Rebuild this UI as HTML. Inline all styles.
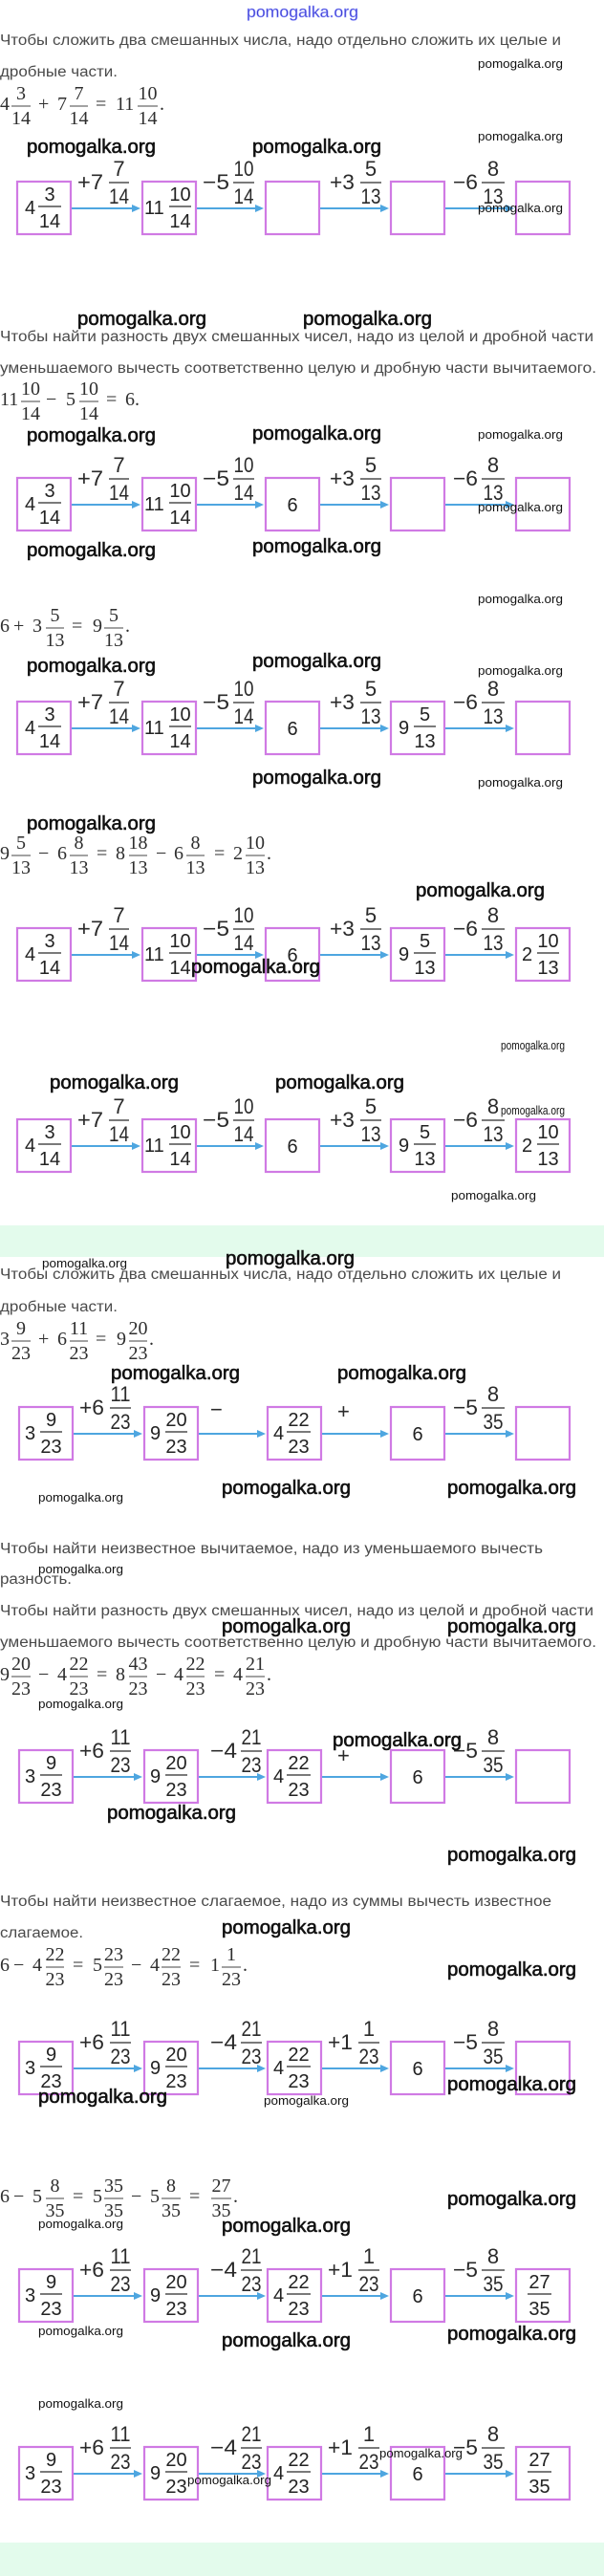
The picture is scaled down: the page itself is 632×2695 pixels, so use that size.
<!DOCTYPE html>
<html><head><meta charset="utf-8"><style>
html,body{margin:0;padding:0;background:#fff}
svg{display:block}
.t{font-family:"Liberation Sans","Noto Sans CJK SC",sans-serif;font-size:15.5px;fill:#4a4a4a}
.e{font-family:"Liberation Serif",serif;font-size:20px;fill:#2e2e2e}
.o{font-family:"Liberation Sans",sans-serif;font-size:22px;fill:#2a2a2a}
.b{font-family:"Liberation Sans",sans-serif;font-size:20px;fill:#222}
.wb{font-family:"Liberation Sans",sans-serif;font-size:20px;fill:#111;stroke:#111;stroke-width:0.6}
.ws{font-family:"Liberation Sans",sans-serif;font-size:13px;fill:#111}
.bx{fill:#fff;stroke:#d07ae4;stroke-width:2.2}
.ar{stroke:#4ea6e0;stroke-width:2;fill:none}
.ah{fill:#4ea6e0}
.fl{stroke:#2a2a2a;stroke-width:1.3;fill:none}
.el{stroke:#444;stroke-width:1;fill:none}
</style></head><body>
<svg width="632" height="2695" viewBox="0 0 632 2695" xmlns="http://www.w3.org/2000/svg">
<rect x="0" y="0" width="632" height="2695" fill="#fff"/>
<rect x="0" y="1282" width="632" height="33" fill="#e3fbec"/>
<rect x="0" y="2660" width="632" height="35" fill="#e3fbec"/>

<text x="258" y="18" font-family="Liberation Sans, sans-serif" font-size="17" fill="#3b3bd0" stroke="#9aa0ff" stroke-width="0.5" textLength="117" lengthAdjust="spacingAndGlyphs">pomogalka.org</text>

<text class="t" x="0" y="47" textLength="587" lengthAdjust="spacingAndGlyphs">Чтобы сложить два смешанных числа, надо отдельно сложить их целые и</text>
<text class="t" x="0" y="80" textLength="123" lengthAdjust="spacingAndGlyphs">дробные части.</text>
<text class="t" x="0" y="357" textLength="621" lengthAdjust="spacingAndGlyphs">Чтобы найти разность двух смешанных чисел, надо из целой и дробной части</text>
<text class="t" x="0" y="390" textLength="624" lengthAdjust="spacingAndGlyphs">уменьшаемого вычесть соответственно целую и дробную части вычитаемого.</text>
<text class="t" x="0" y="1338" textLength="587" lengthAdjust="spacingAndGlyphs">Чтобы сложить два смешанных числа, надо отдельно сложить их целые и</text>
<text class="t" x="0" y="1372" textLength="123" lengthAdjust="spacingAndGlyphs">дробные части.</text>
<text class="t" x="0" y="1625" textLength="568" lengthAdjust="spacingAndGlyphs">Чтобы найти неизвестное вычитаемое, надо из уменьшаемого вычесть</text>
<text class="t" x="0" y="1657" textLength="75" lengthAdjust="spacingAndGlyphs">разность.</text>
<text class="t" x="0" y="1690" textLength="621" lengthAdjust="spacingAndGlyphs">Чтобы найти разность двух смешанных чисел, надо из целой и дробной части</text>
<text class="t" x="0" y="1723" textLength="624" lengthAdjust="spacingAndGlyphs">уменьшаемого вычесть соответственно целую и дробную части вычитаемого.</text>
<text class="t" x="0" y="1994" textLength="577" lengthAdjust="spacingAndGlyphs">Чтобы найти неизвестное слагаемое, надо из суммы вычесть известное</text>
<text class="t" x="0" y="2027" textLength="87" lengthAdjust="spacingAndGlyphs">слагаемое.</text>

<!-- Equation 1 -->
<g transform="translate(0,111)">
<text class="e" x="0" y="4">4</text>
<text class="e" x="22" y="-7" text-anchor="middle">3</text><path class="el" d="M12 0H32"/><text class="e" x="22" y="19" text-anchor="middle">14</text>
<text class="e" x="40" y="4">+</text>
<text class="e" x="60" y="4">7</text>
<text class="e" x="82.5" y="-7" text-anchor="middle">7</text><path class="el" d="M73 0H92"/><text class="e" x="82.5" y="19" text-anchor="middle">14</text>
<text class="e" x="100" y="4">=</text>
<text class="e" x="121" y="4">11</text>
<text class="e" x="154.5" y="-7" text-anchor="middle">10</text><path class="el" d="M144 0H165"/><text class="e" x="154.5" y="19" text-anchor="middle">14</text>
<text class="e" x="167" y="4">.</text>
</g>

<!-- Equation 2 -->
<g transform="translate(0,420)">
<text class="e" x="0" y="4">11</text>
<text class="e" x="32" y="-7" text-anchor="middle">10</text><path class="el" d="M22 0H42"/><text class="e" x="32" y="19" text-anchor="middle">14</text>
<text class="e" x="48" y="4">−</text>
<text class="e" x="69" y="4">5</text>
<text class="e" x="93" y="-7" text-anchor="middle">10</text><path class="el" d="M83 0H103"/><text class="e" x="93" y="19" text-anchor="middle">14</text>
<text class="e" x="111" y="4">=</text>
<text class="e" x="131" y="4">6.</text>
</g>

<!-- Equation 3 -->
<g transform="translate(0,657)">
<text class="e" x="0" y="4">6</text>
<text class="e" x="14" y="4">+</text>
<text class="e" x="34" y="4">3</text>
<text class="e" x="57.5" y="-7" text-anchor="middle">5</text><path class="el" d="M48 0H67"/><text class="e" x="57.5" y="19" text-anchor="middle">13</text>
<text class="e" x="75" y="4">=</text>
<text class="e" x="97" y="4">9</text>
<text class="e" x="119" y="-7" text-anchor="middle">5</text><path class="el" d="M109 0H129"/><text class="e" x="119" y="19" text-anchor="middle">13</text>
<text class="e" x="131" y="4">.</text>
</g>

<!-- Equation 4 -->
<g transform="translate(0,895)">
<text class="e" x="0" y="4">9</text>
<text class="e" x="22" y="-7" text-anchor="middle">5</text><path class="el" d="M12 0H32"/><text class="e" x="22" y="19" text-anchor="middle">13</text>
<text class="e" x="40" y="4">−</text>
<text class="e" x="60" y="4">6</text>
<text class="e" x="82.5" y="-7" text-anchor="middle">8</text><path class="el" d="M73 0H92"/><text class="e" x="82.5" y="19" text-anchor="middle">13</text>
<text class="e" x="101" y="4">=</text>
<text class="e" x="121" y="4">8</text>
<text class="e" x="144.5" y="-7" text-anchor="middle">18</text><path class="el" d="M135 0H154"/><text class="e" x="144.5" y="19" text-anchor="middle">13</text>
<text class="e" x="163" y="4">−</text>
<text class="e" x="182" y="4">6</text>
<text class="e" x="204.5" y="-7" text-anchor="middle">8</text><path class="el" d="M195 0H214"/><text class="e" x="204.5" y="19" text-anchor="middle">13</text>
<text class="e" x="224" y="4">=</text>
<text class="e" x="244" y="4">2</text>
<text class="e" x="267" y="-7" text-anchor="middle">10</text><path class="el" d="M257 0H277"/><text class="e" x="267" y="19" text-anchor="middle">13</text>
<text class="e" x="279" y="4">.</text>
</g>

<!-- Equation 5 -->
<g transform="translate(0,1403)">
<text class="e" x="0" y="4">3</text>
<text class="e" x="22" y="-7" text-anchor="middle">9</text><path class="el" d="M12 0H32"/><text class="e" x="22" y="19" text-anchor="middle">23</text>
<text class="e" x="40" y="4">+</text>
<text class="e" x="60" y="4">6</text>
<text class="e" x="82.5" y="-7" text-anchor="middle">11</text><path class="el" d="M73 0H92"/><text class="e" x="82.5" y="19" text-anchor="middle">23</text>
<text class="e" x="100" y="4">=</text>
<text class="e" x="122" y="4">9</text>
<text class="e" x="144.5" y="-7" text-anchor="middle">20</text><path class="el" d="M135 0H154"/><text class="e" x="144.5" y="19" text-anchor="middle">23</text>
<text class="e" x="156" y="4">.</text>
</g>

<!-- Equation 6 -->
<g transform="translate(0,1754)">
<text class="e" x="0" y="4">9</text>
<text class="e" x="22" y="-7" text-anchor="middle">20</text><path class="el" d="M12 0H32"/><text class="e" x="22" y="19" text-anchor="middle">23</text>
<text class="e" x="40" y="4">−</text>
<text class="e" x="60" y="4">4</text>
<text class="e" x="82.5" y="-7" text-anchor="middle">22</text><path class="el" d="M73 0H92"/><text class="e" x="82.5" y="19" text-anchor="middle">23</text>
<text class="e" x="101" y="4">=</text>
<text class="e" x="121" y="4">8</text>
<text class="e" x="144.5" y="-7" text-anchor="middle">43</text><path class="el" d="M135 0H154"/><text class="e" x="144.5" y="19" text-anchor="middle">23</text>
<text class="e" x="163" y="4">−</text>
<text class="e" x="182" y="4">4</text>
<text class="e" x="204.5" y="-7" text-anchor="middle">22</text><path class="el" d="M195 0H214"/><text class="e" x="204.5" y="19" text-anchor="middle">23</text>
<text class="e" x="224" y="4">=</text>
<text class="e" x="244" y="4">4</text>
<text class="e" x="267" y="-7" text-anchor="middle">21</text><path class="el" d="M257 0H277"/><text class="e" x="267" y="19" text-anchor="middle">23</text>
<text class="e" x="279" y="4">.</text>
</g>

<!-- Equation 7 -->
<g transform="translate(0,2058)">
<text class="e" x="0" y="4">6</text>
<text class="e" x="14" y="4">−</text>
<text class="e" x="34" y="4">4</text>
<text class="e" x="57.5" y="-7" text-anchor="middle">22</text><path class="el" d="M48 0H67"/><text class="e" x="57.5" y="19" text-anchor="middle">23</text>
<text class="e" x="76" y="4">=</text>
<text class="e" x="97" y="4">5</text>
<text class="e" x="119" y="-7" text-anchor="middle">23</text><path class="el" d="M109 0H129"/><text class="e" x="119" y="19" text-anchor="middle">23</text>
<text class="e" x="137" y="4">−</text>
<text class="e" x="157" y="4">4</text>
<text class="e" x="179" y="-7" text-anchor="middle">22</text><path class="el" d="M169 0H189"/><text class="e" x="179" y="19" text-anchor="middle">23</text>
<text class="e" x="198" y="4">=</text>
<text class="e" x="220" y="4">1</text>
<text class="e" x="242" y="-7" text-anchor="middle">1</text><path class="el" d="M232 0H252"/><text class="e" x="242" y="19" text-anchor="middle">23</text>
<text class="e" x="254" y="4">.</text>
</g>

<!-- Equation 8 -->
<g transform="translate(0,2300)">
<text class="e" x="0" y="4">6</text>
<text class="e" x="14" y="4">−</text>
<text class="e" x="34" y="4">5</text>
<text class="e" x="57.5" y="-7" text-anchor="middle">8</text><path class="el" d="M48 0H67"/><text class="e" x="57.5" y="19" text-anchor="middle">35</text>
<text class="e" x="76" y="4">=</text>
<text class="e" x="97" y="4">5</text>
<text class="e" x="119" y="-7" text-anchor="middle">35</text><path class="el" d="M109 0H129"/><text class="e" x="119" y="19" text-anchor="middle">35</text>
<text class="e" x="137" y="4">−</text>
<text class="e" x="157" y="4">5</text>
<text class="e" x="179" y="-7" text-anchor="middle">8</text><path class="el" d="M169 0H189"/><text class="e" x="179" y="19" text-anchor="middle">35</text>
<text class="e" x="198" y="4">=</text>
<text class="e" x="231.5" y="-7" text-anchor="middle">27</text><path class="el" d="M221 0H242"/><text class="e" x="231.5" y="19" text-anchor="middle">35</text>
<text class="e" x="244" y="4">.</text>
</g>

<!-- R1 -->
<g transform="translate(0,189)">
<path class="ar" d="M75 29H140M206 29H269M335 29H400M466 29H531"/>
<path class="ah" d="M138 25L147 29L138 33ZM267 25L276 29L267 33ZM398 25L407 29L398 33ZM529 25L538 29L529 33Z"/>
<rect class="bx" x="18" y="1" width="56" height="55"/><rect class="bx" x="149" y="1" width="56" height="55"/><rect class="bx" x="278" y="1" width="56" height="55"/><rect class="bx" x="409" y="1" width="56" height="55"/><rect class="bx" x="540" y="1" width="56" height="55"/>
<text class="o" x="81" y="9" textLength="27" lengthAdjust="spacingAndGlyphs">+7</text><text class="o" x="124.5" y="-5" text-anchor="middle">7</text><path class="fl" d="M114 2H135"/><text class="o" x="124.5" y="24" text-anchor="middle" textLength="21" lengthAdjust="spacingAndGlyphs">14</text>
<text class="o" x="212" y="9" textLength="28" lengthAdjust="spacingAndGlyphs">−5</text><text class="o" x="255" y="-5" text-anchor="middle" textLength="21" lengthAdjust="spacingAndGlyphs">10</text><path class="fl" d="M244 2H266"/><text class="o" x="255" y="24" text-anchor="middle" textLength="21" lengthAdjust="spacingAndGlyphs">14</text>
<text class="o" x="345" y="9" textLength="26" lengthAdjust="spacingAndGlyphs">+3</text><text class="o" x="388" y="-5" text-anchor="middle">5</text><path class="fl" d="M377 2H399"/><text class="o" x="388" y="24" text-anchor="middle" textLength="21" lengthAdjust="spacingAndGlyphs">13</text>
<text class="o" x="474" y="9" textLength="26" lengthAdjust="spacingAndGlyphs">−6</text><text class="o" x="516" y="-5" text-anchor="middle">8</text><path class="fl" d="M504 2H528"/><text class="o" x="516" y="24" text-anchor="middle" textLength="21" lengthAdjust="spacingAndGlyphs">13</text>
<text class="b" x="26" y="35">4</text><text class="b" x="52" y="21" text-anchor="middle">3</text><path class="fl" d="M40 27H64"/><text class="b" x="52" y="49" text-anchor="middle">14</text>
<text class="b" x="151" y="35">11</text><text class="b" x="188.5" y="21" text-anchor="middle">10</text><path class="fl" d="M177 27H200"/><text class="b" x="188.5" y="49" text-anchor="middle">14</text>
</g>

<!-- R2 -->
<g transform="translate(0,499)">
<path class="ar" d="M75 29H140M206 29H269M335 29H400M466 29H531"/>
<path class="ah" d="M138 25L147 29L138 33ZM267 25L276 29L267 33ZM398 25L407 29L398 33ZM529 25L538 29L529 33Z"/>
<rect class="bx" x="18" y="1" width="56" height="55"/><rect class="bx" x="149" y="1" width="56" height="55"/><rect class="bx" x="278" y="1" width="56" height="55"/><rect class="bx" x="409" y="1" width="56" height="55"/><rect class="bx" x="540" y="1" width="56" height="55"/>
<text class="o" x="81" y="9" textLength="27" lengthAdjust="spacingAndGlyphs">+7</text><text class="o" x="124.5" y="-5" text-anchor="middle">7</text><path class="fl" d="M114 2H135"/><text class="o" x="124.5" y="24" text-anchor="middle" textLength="21" lengthAdjust="spacingAndGlyphs">14</text>
<text class="o" x="212" y="9" textLength="28" lengthAdjust="spacingAndGlyphs">−5</text><text class="o" x="255" y="-5" text-anchor="middle" textLength="21" lengthAdjust="spacingAndGlyphs">10</text><path class="fl" d="M244 2H266"/><text class="o" x="255" y="24" text-anchor="middle" textLength="21" lengthAdjust="spacingAndGlyphs">14</text>
<text class="o" x="345" y="9" textLength="26" lengthAdjust="spacingAndGlyphs">+3</text><text class="o" x="388" y="-5" text-anchor="middle">5</text><path class="fl" d="M377 2H399"/><text class="o" x="388" y="24" text-anchor="middle" textLength="21" lengthAdjust="spacingAndGlyphs">13</text>
<text class="o" x="474" y="9" textLength="26" lengthAdjust="spacingAndGlyphs">−6</text><text class="o" x="516" y="-5" text-anchor="middle">8</text><path class="fl" d="M504 2H528"/><text class="o" x="516" y="24" text-anchor="middle" textLength="21" lengthAdjust="spacingAndGlyphs">13</text>
<text class="b" x="26" y="35">4</text><text class="b" x="52" y="21" text-anchor="middle">3</text><path class="fl" d="M40 27H64"/><text class="b" x="52" y="49" text-anchor="middle">14</text>
<text class="b" x="151" y="35">11</text><text class="b" x="188.5" y="21" text-anchor="middle">10</text><path class="fl" d="M177 27H200"/><text class="b" x="188.5" y="49" text-anchor="middle">14</text>
<text class="b" x="306" y="36" text-anchor="middle">6</text>
</g>

<!-- R3 -->
<g transform="translate(0,733)">
<path class="ar" d="M75 29H140M206 29H269M335 29H400M466 29H531"/>
<path class="ah" d="M138 25L147 29L138 33ZM267 25L276 29L267 33ZM398 25L407 29L398 33ZM529 25L538 29L529 33Z"/>
<rect class="bx" x="18" y="1" width="56" height="55"/><rect class="bx" x="149" y="1" width="56" height="55"/><rect class="bx" x="278" y="1" width="56" height="55"/><rect class="bx" x="409" y="1" width="56" height="55"/><rect class="bx" x="540" y="1" width="56" height="55"/>
<text class="o" x="81" y="9" textLength="27" lengthAdjust="spacingAndGlyphs">+7</text><text class="o" x="124.5" y="-5" text-anchor="middle">7</text><path class="fl" d="M114 2H135"/><text class="o" x="124.5" y="24" text-anchor="middle" textLength="21" lengthAdjust="spacingAndGlyphs">14</text>
<text class="o" x="212" y="9" textLength="28" lengthAdjust="spacingAndGlyphs">−5</text><text class="o" x="255" y="-5" text-anchor="middle" textLength="21" lengthAdjust="spacingAndGlyphs">10</text><path class="fl" d="M244 2H266"/><text class="o" x="255" y="24" text-anchor="middle" textLength="21" lengthAdjust="spacingAndGlyphs">14</text>
<text class="o" x="345" y="9" textLength="26" lengthAdjust="spacingAndGlyphs">+3</text><text class="o" x="388" y="-5" text-anchor="middle">5</text><path class="fl" d="M377 2H399"/><text class="o" x="388" y="24" text-anchor="middle" textLength="21" lengthAdjust="spacingAndGlyphs">13</text>
<text class="o" x="474" y="9" textLength="26" lengthAdjust="spacingAndGlyphs">−6</text><text class="o" x="516" y="-5" text-anchor="middle">8</text><path class="fl" d="M504 2H528"/><text class="o" x="516" y="24" text-anchor="middle" textLength="21" lengthAdjust="spacingAndGlyphs">13</text>
<text class="b" x="26" y="35">4</text><text class="b" x="52" y="21" text-anchor="middle">3</text><path class="fl" d="M40 27H64"/><text class="b" x="52" y="49" text-anchor="middle">14</text>
<text class="b" x="151" y="35">11</text><text class="b" x="188.5" y="21" text-anchor="middle">10</text><path class="fl" d="M177 27H200"/><text class="b" x="188.5" y="49" text-anchor="middle">14</text>
<text class="b" x="306" y="36" text-anchor="middle">6</text>
<text class="b" x="417" y="35">9</text><text class="b" x="444.5" y="21" text-anchor="middle">5</text><path class="fl" d="M433 27H456"/><text class="b" x="444.5" y="49" text-anchor="middle">13</text>
</g>

<!-- R4 -->
<g transform="translate(0,970)">
<path class="ar" d="M75 29H140M206 29H269M335 29H400M466 29H531"/>
<path class="ah" d="M138 25L147 29L138 33ZM267 25L276 29L267 33ZM398 25L407 29L398 33ZM529 25L538 29L529 33Z"/>
<rect class="bx" x="18" y="1" width="56" height="55"/><rect class="bx" x="149" y="1" width="56" height="55"/><rect class="bx" x="278" y="1" width="56" height="55"/><rect class="bx" x="409" y="1" width="56" height="55"/><rect class="bx" x="540" y="1" width="56" height="55"/>
<text class="o" x="81" y="9" textLength="27" lengthAdjust="spacingAndGlyphs">+7</text><text class="o" x="124.5" y="-5" text-anchor="middle">7</text><path class="fl" d="M114 2H135"/><text class="o" x="124.5" y="24" text-anchor="middle" textLength="21" lengthAdjust="spacingAndGlyphs">14</text>
<text class="o" x="212" y="9" textLength="28" lengthAdjust="spacingAndGlyphs">−5</text><text class="o" x="255" y="-5" text-anchor="middle" textLength="21" lengthAdjust="spacingAndGlyphs">10</text><path class="fl" d="M244 2H266"/><text class="o" x="255" y="24" text-anchor="middle" textLength="21" lengthAdjust="spacingAndGlyphs">14</text>
<text class="o" x="345" y="9" textLength="26" lengthAdjust="spacingAndGlyphs">+3</text><text class="o" x="388" y="-5" text-anchor="middle">5</text><path class="fl" d="M377 2H399"/><text class="o" x="388" y="24" text-anchor="middle" textLength="21" lengthAdjust="spacingAndGlyphs">13</text>
<text class="o" x="474" y="9" textLength="26" lengthAdjust="spacingAndGlyphs">−6</text><text class="o" x="516" y="-5" text-anchor="middle">8</text><path class="fl" d="M504 2H528"/><text class="o" x="516" y="24" text-anchor="middle" textLength="21" lengthAdjust="spacingAndGlyphs">13</text>
<text class="b" x="26" y="35">4</text><text class="b" x="52" y="21" text-anchor="middle">3</text><path class="fl" d="M40 27H64"/><text class="b" x="52" y="49" text-anchor="middle">14</text>
<text class="b" x="151" y="35">11</text><text class="b" x="188.5" y="21" text-anchor="middle">10</text><path class="fl" d="M177 27H200"/><text class="b" x="188.5" y="49" text-anchor="middle">14</text>
<text class="b" x="306" y="36" text-anchor="middle">6</text>
<text class="b" x="417" y="35">9</text><text class="b" x="444.5" y="21" text-anchor="middle">5</text><path class="fl" d="M433 27H456"/><text class="b" x="444.5" y="49" text-anchor="middle">13</text>
<text class="b" x="546" y="35">2</text><text class="b" x="573.5" y="21" text-anchor="middle">10</text><path class="fl" d="M562 27H585"/><text class="b" x="573.5" y="49" text-anchor="middle">13</text>
</g>

<!-- R5 -->
<g transform="translate(0,1170)">
<path class="ar" d="M75 29H140M206 29H269M335 29H400M466 29H531"/>
<path class="ah" d="M138 25L147 29L138 33ZM267 25L276 29L267 33ZM398 25L407 29L398 33ZM529 25L538 29L529 33Z"/>
<rect class="bx" x="18" y="1" width="56" height="55"/><rect class="bx" x="149" y="1" width="56" height="55"/><rect class="bx" x="278" y="1" width="56" height="55"/><rect class="bx" x="409" y="1" width="56" height="55"/><rect class="bx" x="540" y="1" width="56" height="55"/>
<text class="o" x="81" y="9" textLength="27" lengthAdjust="spacingAndGlyphs">+7</text><text class="o" x="124.5" y="-5" text-anchor="middle">7</text><path class="fl" d="M114 2H135"/><text class="o" x="124.5" y="24" text-anchor="middle" textLength="21" lengthAdjust="spacingAndGlyphs">14</text>
<text class="o" x="212" y="9" textLength="28" lengthAdjust="spacingAndGlyphs">−5</text><text class="o" x="255" y="-5" text-anchor="middle" textLength="21" lengthAdjust="spacingAndGlyphs">10</text><path class="fl" d="M244 2H266"/><text class="o" x="255" y="24" text-anchor="middle" textLength="21" lengthAdjust="spacingAndGlyphs">14</text>
<text class="o" x="345" y="9" textLength="26" lengthAdjust="spacingAndGlyphs">+3</text><text class="o" x="388" y="-5" text-anchor="middle">5</text><path class="fl" d="M377 2H399"/><text class="o" x="388" y="24" text-anchor="middle" textLength="21" lengthAdjust="spacingAndGlyphs">13</text>
<text class="o" x="474" y="9" textLength="26" lengthAdjust="spacingAndGlyphs">−6</text><text class="o" x="516" y="-5" text-anchor="middle">8</text><path class="fl" d="M504 2H528"/><text class="o" x="516" y="24" text-anchor="middle" textLength="21" lengthAdjust="spacingAndGlyphs">13</text>
<text class="b" x="26" y="35">4</text><text class="b" x="52" y="21" text-anchor="middle">3</text><path class="fl" d="M40 27H64"/><text class="b" x="52" y="49" text-anchor="middle">14</text>
<text class="b" x="151" y="35">11</text><text class="b" x="188.5" y="21" text-anchor="middle">10</text><path class="fl" d="M177 27H200"/><text class="b" x="188.5" y="49" text-anchor="middle">14</text>
<text class="b" x="306" y="36" text-anchor="middle">6</text>
<text class="b" x="417" y="35">9</text><text class="b" x="444.5" y="21" text-anchor="middle">5</text><path class="fl" d="M433 27H456"/><text class="b" x="444.5" y="49" text-anchor="middle">13</text>
<text class="b" x="546" y="35">2</text><text class="b" x="573.5" y="21" text-anchor="middle">10</text><path class="fl" d="M562 27H585"/><text class="b" x="573.5" y="49" text-anchor="middle">13</text>
</g>

<!-- R6 -->
<g transform="translate(0,1471)">
<path class="ar" d="M77 29H142M208 29H271M337 29H400M466 29H531"/>
<path class="ah" d="M140 25L149 29L140 33ZM269 25L278 29L269 33ZM398 25L407 29L398 33ZM529 25L538 29L529 33Z"/>
<rect class="bx" x="20" y="1" width="56" height="55"/><rect class="bx" x="151" y="1" width="56" height="55"/><rect class="bx" x="280" y="1" width="56" height="55"/><rect class="bx" x="409" y="1" width="56" height="55"/><rect class="bx" x="540" y="1" width="56" height="55"/>
<text class="o" x="83" y="9" textLength="26" lengthAdjust="spacingAndGlyphs">+6</text><text class="o" x="126" y="-5" text-anchor="middle" textLength="21" lengthAdjust="spacingAndGlyphs">11</text><path class="fl" d="M115 2H137"/><text class="o" x="126" y="24" text-anchor="middle" textLength="21" lengthAdjust="spacingAndGlyphs">23</text>
<text class="o" x="220" y="11">−</text>
<text class="o" x="353" y="13">+</text>
<text class="o" x="474" y="9" textLength="26" lengthAdjust="spacingAndGlyphs">−5</text><text class="o" x="516" y="-5" text-anchor="middle">8</text><path class="fl" d="M504 2H528"/><text class="o" x="516" y="24" text-anchor="middle" textLength="21" lengthAdjust="spacingAndGlyphs">35</text>
<text class="b" x="26" y="35">3</text><text class="b" x="53.5" y="21" text-anchor="middle">9</text><path class="fl" d="M42 27H65"/><text class="b" x="53.5" y="49" text-anchor="middle">23</text>
<text class="b" x="157" y="35">9</text><text class="b" x="184.5" y="21" text-anchor="middle">20</text><path class="fl" d="M173 27H196"/><text class="b" x="184.5" y="49" text-anchor="middle">23</text>
<text class="b" x="286" y="35">4</text><text class="b" x="312.5" y="21" text-anchor="middle">22</text><path class="fl" d="M300 27H325"/><text class="b" x="312.5" y="49" text-anchor="middle">23</text>
<text class="b" x="437" y="36" text-anchor="middle">6</text>
</g>

<!-- R7 -->
<g transform="translate(0,1830)">
<path class="ar" d="M77 29H142M208 29H271M337 29H400M466 29H531"/>
<path class="ah" d="M140 25L149 29L140 33ZM269 25L278 29L269 33ZM398 25L407 29L398 33ZM529 25L538 29L529 33Z"/>
<rect class="bx" x="20" y="1" width="56" height="55"/><rect class="bx" x="151" y="1" width="56" height="55"/><rect class="bx" x="280" y="1" width="56" height="55"/><rect class="bx" x="409" y="1" width="56" height="55"/><rect class="bx" x="540" y="1" width="56" height="55"/>
<text class="o" x="83" y="9" textLength="26" lengthAdjust="spacingAndGlyphs">+6</text><text class="o" x="126" y="-5" text-anchor="middle" textLength="21" lengthAdjust="spacingAndGlyphs">11</text><path class="fl" d="M115 2H137"/><text class="o" x="126" y="24" text-anchor="middle" textLength="21" lengthAdjust="spacingAndGlyphs">23</text>
<text class="o" x="220" y="9" textLength="28" lengthAdjust="spacingAndGlyphs">−4</text><text class="o" x="263" y="-5" text-anchor="middle" textLength="21" lengthAdjust="spacingAndGlyphs">21</text><path class="fl" d="M252 2H274"/><text class="o" x="263" y="24" text-anchor="middle" textLength="21" lengthAdjust="spacingAndGlyphs">23</text>
<text class="o" x="353" y="14">+</text>
<text class="o" x="474" y="9" textLength="26" lengthAdjust="spacingAndGlyphs">−5</text><text class="o" x="516" y="-5" text-anchor="middle">8</text><path class="fl" d="M504 2H528"/><text class="o" x="516" y="24" text-anchor="middle" textLength="21" lengthAdjust="spacingAndGlyphs">35</text>
<text class="b" x="26" y="35">3</text><text class="b" x="53.5" y="21" text-anchor="middle">9</text><path class="fl" d="M42 27H65"/><text class="b" x="53.5" y="49" text-anchor="middle">23</text>
<text class="b" x="157" y="35">9</text><text class="b" x="184.5" y="21" text-anchor="middle">20</text><path class="fl" d="M173 27H196"/><text class="b" x="184.5" y="49" text-anchor="middle">23</text>
<text class="b" x="286" y="35">4</text><text class="b" x="312.5" y="21" text-anchor="middle">22</text><path class="fl" d="M300 27H325"/><text class="b" x="312.5" y="49" text-anchor="middle">23</text>
<text class="b" x="437" y="36" text-anchor="middle">6</text>
</g>

<!-- R8 -->
<g transform="translate(0,2135)">
<path class="ar" d="M77 29H142M208 29H271M337 29H400M466 29H531"/>
<path class="ah" d="M140 25L149 29L140 33ZM269 25L278 29L269 33ZM398 25L407 29L398 33ZM529 25L538 29L529 33Z"/>
<rect class="bx" x="20" y="1" width="56" height="55"/><rect class="bx" x="151" y="1" width="56" height="55"/><rect class="bx" x="280" y="1" width="56" height="55"/><rect class="bx" x="409" y="1" width="56" height="55"/><rect class="bx" x="540" y="1" width="56" height="55"/>
<text class="o" x="83" y="9" textLength="26" lengthAdjust="spacingAndGlyphs">+6</text><text class="o" x="126" y="-5" text-anchor="middle" textLength="21" lengthAdjust="spacingAndGlyphs">11</text><path class="fl" d="M115 2H137"/><text class="o" x="126" y="24" text-anchor="middle" textLength="21" lengthAdjust="spacingAndGlyphs">23</text>
<text class="o" x="220" y="9" textLength="28" lengthAdjust="spacingAndGlyphs">−4</text><text class="o" x="263" y="-5" text-anchor="middle" textLength="21" lengthAdjust="spacingAndGlyphs">21</text><path class="fl" d="M252 2H274"/><text class="o" x="263" y="24" text-anchor="middle" textLength="21" lengthAdjust="spacingAndGlyphs">23</text>
<text class="o" x="343" y="9" textLength="26" lengthAdjust="spacingAndGlyphs">+1</text><text class="o" x="386" y="-5" text-anchor="middle">1</text><path class="fl" d="M375 2H397"/><text class="o" x="386" y="24" text-anchor="middle" textLength="21" lengthAdjust="spacingAndGlyphs">23</text>
<text class="o" x="474" y="9" textLength="26" lengthAdjust="spacingAndGlyphs">−5</text><text class="o" x="516" y="-5" text-anchor="middle">8</text><path class="fl" d="M504 2H528"/><text class="o" x="516" y="24" text-anchor="middle" textLength="21" lengthAdjust="spacingAndGlyphs">35</text>
<text class="b" x="26" y="35">3</text><text class="b" x="53.5" y="21" text-anchor="middle">9</text><path class="fl" d="M42 27H65"/><text class="b" x="53.5" y="49" text-anchor="middle">23</text>
<text class="b" x="157" y="35">9</text><text class="b" x="184.5" y="21" text-anchor="middle">20</text><path class="fl" d="M173 27H196"/><text class="b" x="184.5" y="49" text-anchor="middle">23</text>
<text class="b" x="286" y="35">4</text><text class="b" x="312.5" y="21" text-anchor="middle">22</text><path class="fl" d="M300 27H325"/><text class="b" x="312.5" y="49" text-anchor="middle">23</text>
<text class="b" x="437" y="36" text-anchor="middle">6</text>
</g>

<!-- R9 -->
<g transform="translate(0,2373)">
<path class="ar" d="M77 29H142M208 29H271M337 29H400M466 29H531"/>
<path class="ah" d="M140 25L149 29L140 33ZM269 25L278 29L269 33ZM398 25L407 29L398 33ZM529 25L538 29L529 33Z"/>
<rect class="bx" x="20" y="1" width="56" height="55"/><rect class="bx" x="151" y="1" width="56" height="55"/><rect class="bx" x="280" y="1" width="56" height="55"/><rect class="bx" x="409" y="1" width="56" height="55"/><rect class="bx" x="540" y="1" width="56" height="55"/>
<text class="o" x="83" y="9" textLength="26" lengthAdjust="spacingAndGlyphs">+6</text><text class="o" x="126" y="-5" text-anchor="middle" textLength="21" lengthAdjust="spacingAndGlyphs">11</text><path class="fl" d="M115 2H137"/><text class="o" x="126" y="24" text-anchor="middle" textLength="21" lengthAdjust="spacingAndGlyphs">23</text>
<text class="o" x="220" y="9" textLength="28" lengthAdjust="spacingAndGlyphs">−4</text><text class="o" x="263" y="-5" text-anchor="middle" textLength="21" lengthAdjust="spacingAndGlyphs">21</text><path class="fl" d="M252 2H274"/><text class="o" x="263" y="24" text-anchor="middle" textLength="21" lengthAdjust="spacingAndGlyphs">23</text>
<text class="o" x="343" y="9" textLength="26" lengthAdjust="spacingAndGlyphs">+1</text><text class="o" x="386" y="-5" text-anchor="middle">1</text><path class="fl" d="M375 2H397"/><text class="o" x="386" y="24" text-anchor="middle" textLength="21" lengthAdjust="spacingAndGlyphs">23</text>
<text class="o" x="474" y="9" textLength="26" lengthAdjust="spacingAndGlyphs">−5</text><text class="o" x="516" y="-5" text-anchor="middle">8</text><path class="fl" d="M504 2H528"/><text class="o" x="516" y="24" text-anchor="middle" textLength="21" lengthAdjust="spacingAndGlyphs">35</text>
<text class="b" x="26" y="35">3</text><text class="b" x="53.5" y="21" text-anchor="middle">9</text><path class="fl" d="M42 27H65"/><text class="b" x="53.5" y="49" text-anchor="middle">23</text>
<text class="b" x="157" y="35">9</text><text class="b" x="184.5" y="21" text-anchor="middle">20</text><path class="fl" d="M173 27H196"/><text class="b" x="184.5" y="49" text-anchor="middle">23</text>
<text class="b" x="286" y="35">4</text><text class="b" x="312.5" y="21" text-anchor="middle">22</text><path class="fl" d="M300 27H325"/><text class="b" x="312.5" y="49" text-anchor="middle">23</text>
<text class="b" x="437" y="36" text-anchor="middle">6</text>
<text class="b" x="564.5" y="21" text-anchor="middle">27</text><path class="fl" d="M552 27H577"/><text class="b" x="564.5" y="49" text-anchor="middle">35</text>
</g>

<!-- R10 -->
<g transform="translate(0,2559)">
<path class="ar" d="M77 29H142M208 29H271M337 29H400M466 29H531"/>
<path class="ah" d="M140 25L149 29L140 33ZM269 25L278 29L269 33ZM398 25L407 29L398 33ZM529 25L538 29L529 33Z"/>
<rect class="bx" x="20" y="1" width="56" height="55"/><rect class="bx" x="151" y="1" width="56" height="55"/><rect class="bx" x="280" y="1" width="56" height="55"/><rect class="bx" x="409" y="1" width="56" height="55"/><rect class="bx" x="540" y="1" width="56" height="55"/>
<text class="o" x="83" y="9" textLength="26" lengthAdjust="spacingAndGlyphs">+6</text><text class="o" x="126" y="-5" text-anchor="middle" textLength="21" lengthAdjust="spacingAndGlyphs">11</text><path class="fl" d="M115 2H137"/><text class="o" x="126" y="24" text-anchor="middle" textLength="21" lengthAdjust="spacingAndGlyphs">23</text>
<text class="o" x="220" y="9" textLength="28" lengthAdjust="spacingAndGlyphs">−4</text><text class="o" x="263" y="-5" text-anchor="middle" textLength="21" lengthAdjust="spacingAndGlyphs">21</text><path class="fl" d="M252 2H274"/><text class="o" x="263" y="24" text-anchor="middle" textLength="21" lengthAdjust="spacingAndGlyphs">23</text>
<text class="o" x="343" y="9" textLength="26" lengthAdjust="spacingAndGlyphs">+1</text><text class="o" x="386" y="-5" text-anchor="middle">1</text><path class="fl" d="M375 2H397"/><text class="o" x="386" y="24" text-anchor="middle" textLength="21" lengthAdjust="spacingAndGlyphs">23</text>
<text class="o" x="474" y="9" textLength="26" lengthAdjust="spacingAndGlyphs">−5</text><text class="o" x="516" y="-5" text-anchor="middle">8</text><path class="fl" d="M504 2H528"/><text class="o" x="516" y="24" text-anchor="middle" textLength="21" lengthAdjust="spacingAndGlyphs">35</text>
<text class="b" x="26" y="35">3</text><text class="b" x="53.5" y="21" text-anchor="middle">9</text><path class="fl" d="M42 27H65"/><text class="b" x="53.5" y="49" text-anchor="middle">23</text>
<text class="b" x="157" y="35">9</text><text class="b" x="184.5" y="21" text-anchor="middle">20</text><path class="fl" d="M173 27H196"/><text class="b" x="184.5" y="49" text-anchor="middle">23</text>
<text class="b" x="286" y="35">4</text><text class="b" x="312.5" y="21" text-anchor="middle">22</text><path class="fl" d="M300 27H325"/><text class="b" x="312.5" y="49" text-anchor="middle">23</text>
<text class="b" x="437" y="36" text-anchor="middle">6</text>
<text class="b" x="564.5" y="21" text-anchor="middle">27</text><path class="fl" d="M552 27H577"/><text class="b" x="564.5" y="49" text-anchor="middle">35</text>
</g>

<!-- WATERMARKS -->
<g>
<text class="ws" x="500" y="71" textLength="89" lengthAdjust="spacingAndGlyphs">pomogalka.org</text>
<text class="ws" x="500" y="147" textLength="89" lengthAdjust="spacingAndGlyphs">pomogalka.org</text>
<text class="wb" x="28" y="160" textLength="135" lengthAdjust="spacingAndGlyphs">pomogalka.org</text>
<text class="wb" x="264" y="160" textLength="135" lengthAdjust="spacingAndGlyphs">pomogalka.org</text>
<text class="ws" x="500" y="222" textLength="89" lengthAdjust="spacingAndGlyphs">pomogalka.org</text>
<text class="wb" x="81" y="340" textLength="135" lengthAdjust="spacingAndGlyphs">pomogalka.org</text>
<text class="wb" x="317" y="340" textLength="135" lengthAdjust="spacingAndGlyphs">pomogalka.org</text>
<text class="ws" x="500" y="459" textLength="89" lengthAdjust="spacingAndGlyphs">pomogalka.org</text>
<text class="wb" x="28" y="462" textLength="135" lengthAdjust="spacingAndGlyphs">pomogalka.org</text>
<text class="wb" x="264" y="460" textLength="135" lengthAdjust="spacingAndGlyphs">pomogalka.org</text>
<text class="ws" x="500" y="535" textLength="89" lengthAdjust="spacingAndGlyphs">pomogalka.org</text>
<text class="wb" x="28" y="582" textLength="135" lengthAdjust="spacingAndGlyphs">pomogalka.org</text>
<text class="wb" x="264" y="578" textLength="135" lengthAdjust="spacingAndGlyphs">pomogalka.org</text>
<text class="ws" x="500" y="631" textLength="89" lengthAdjust="spacingAndGlyphs">pomogalka.org</text>
<text class="wb" x="28" y="703" textLength="135" lengthAdjust="spacingAndGlyphs">pomogalka.org</text>
<text class="wb" x="264" y="698" textLength="135" lengthAdjust="spacingAndGlyphs">pomogalka.org</text>
<text class="ws" x="500" y="706" textLength="89" lengthAdjust="spacingAndGlyphs">pomogalka.org</text>
<text class="wb" x="264" y="820" textLength="135" lengthAdjust="spacingAndGlyphs">pomogalka.org</text>
<text class="ws" x="500" y="823" textLength="89" lengthAdjust="spacingAndGlyphs">pomogalka.org</text>
<text class="wb" x="28" y="868" textLength="135" lengthAdjust="spacingAndGlyphs">pomogalka.org</text>
<text class="wb" x="435" y="938" textLength="135" lengthAdjust="spacingAndGlyphs">pomogalka.org</text>
<text class="wb" x="200" y="1018" textLength="135" lengthAdjust="spacingAndGlyphs">pomogalka.org</text>
<text class="ws" x="524" y="1098" textLength="67" lengthAdjust="spacingAndGlyphs">pomogalka.org</text>
<text class="wb" x="52" y="1139" textLength="135" lengthAdjust="spacingAndGlyphs">pomogalka.org</text>
<text class="wb" x="288" y="1139" textLength="135" lengthAdjust="spacingAndGlyphs">pomogalka.org</text>
<text class="ws" x="524" y="1166" textLength="67" lengthAdjust="spacingAndGlyphs">pomogalka.org</text>
<text class="ws" x="472" y="1255" textLength="89" lengthAdjust="spacingAndGlyphs">pomogalka.org</text>
<text class="ws" x="44" y="1326" textLength="89" lengthAdjust="spacingAndGlyphs">pomogalka.org</text>
<text class="wb" x="236" y="1323" textLength="135" lengthAdjust="spacingAndGlyphs">pomogalka.org</text>
<text class="wb" x="116" y="1443" textLength="135" lengthAdjust="spacingAndGlyphs">pomogalka.org</text>
<text class="wb" x="353" y="1443" textLength="135" lengthAdjust="spacingAndGlyphs">pomogalka.org</text>
<text class="wb" x="232" y="1563" textLength="135" lengthAdjust="spacingAndGlyphs">pomogalka.org</text>
<text class="wb" x="468" y="1563" textLength="135" lengthAdjust="spacingAndGlyphs">pomogalka.org</text>
<text class="ws" x="40" y="1571" textLength="89" lengthAdjust="spacingAndGlyphs">pomogalka.org</text>
<text class="ws" x="40" y="1646" textLength="89" lengthAdjust="spacingAndGlyphs">pomogalka.org</text>
<text class="wb" x="232" y="1708" textLength="135" lengthAdjust="spacingAndGlyphs">pomogalka.org</text>
<text class="wb" x="468" y="1708" textLength="135" lengthAdjust="spacingAndGlyphs">pomogalka.org</text>
<text class="ws" x="40" y="1787" textLength="89" lengthAdjust="spacingAndGlyphs">pomogalka.org</text>
<text class="wb" x="348" y="1827" textLength="135" lengthAdjust="spacingAndGlyphs">pomogalka.org</text>
<text class="wb" x="112" y="1903" textLength="135" lengthAdjust="spacingAndGlyphs">pomogalka.org</text>
<text class="wb" x="468" y="1947" textLength="135" lengthAdjust="spacingAndGlyphs">pomogalka.org</text>
<text class="wb" x="232" y="2023" textLength="135" lengthAdjust="spacingAndGlyphs">pomogalka.org</text>
<text class="wb" x="468" y="2067" textLength="135" lengthAdjust="spacingAndGlyphs">pomogalka.org</text>
<text class="wb" x="468" y="2187" textLength="135" lengthAdjust="spacingAndGlyphs">pomogalka.org</text>
<text class="wb" x="40" y="2200" textLength="135" lengthAdjust="spacingAndGlyphs">pomogalka.org</text>
<text class="ws" x="276" y="2202" textLength="89" lengthAdjust="spacingAndGlyphs">pomogalka.org</text>
<text class="wb" x="468" y="2307" textLength="135" lengthAdjust="spacingAndGlyphs">pomogalka.org</text>
<text class="ws" x="40" y="2331" textLength="89" lengthAdjust="spacingAndGlyphs">pomogalka.org</text>
<text class="wb" x="232" y="2335" textLength="135" lengthAdjust="spacingAndGlyphs">pomogalka.org</text>
<text class="ws" x="40" y="2443" textLength="89" lengthAdjust="spacingAndGlyphs">pomogalka.org</text>
<text class="wb" x="468" y="2448" textLength="135" lengthAdjust="spacingAndGlyphs">pomogalka.org</text>
<text class="wb" x="232" y="2455" textLength="135" lengthAdjust="spacingAndGlyphs">pomogalka.org</text>
<text class="ws" x="40" y="2519" textLength="89" lengthAdjust="spacingAndGlyphs">pomogalka.org</text>
<text class="ws" x="397" y="2571" textLength="87" lengthAdjust="spacingAndGlyphs">pomogalka.org</text>
<text class="ws" x="196" y="2599" textLength="88" lengthAdjust="spacingAndGlyphs">pomogalka.org</text>
</g>
</svg>
</body></html>
